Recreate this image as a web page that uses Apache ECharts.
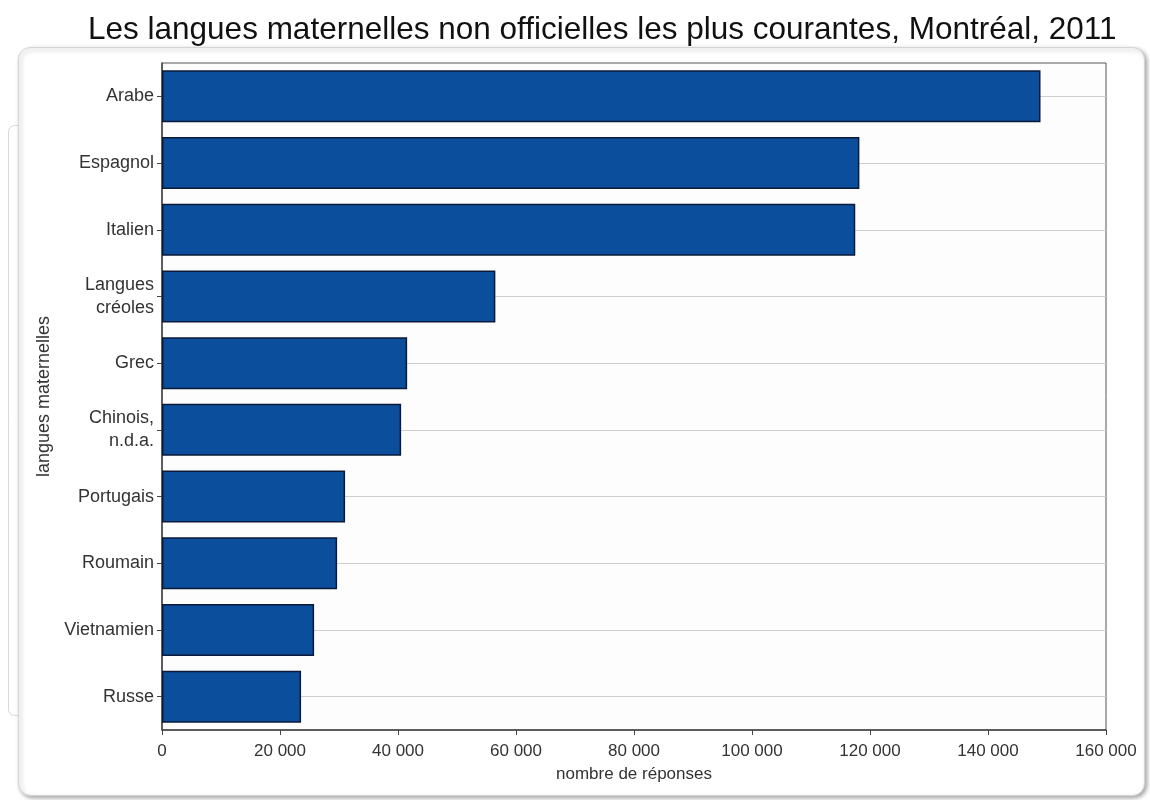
<!DOCTYPE html>
<html>
<head>
<meta charset="utf-8">
<script src="https://cdn.jsdelivr.net/npm/echarts@6/dist/echarts.min.js"></script>
<style>
  html, body { margin: 0; padding: 0; background: #fff; }
  #chart { width: 1150px; height: 800px; }
</style>
</head>
<body>
<div id="chart"></div>
<script>
const langues = ["Arabe", "Espagnol", "Italien", "Langues\ncréoles", "Grec",
  "Chinois,\nn.d.a.", "Portugais", "Roumain", "Vietnamien", "Russe"];
const reponses = [148900, 118200, 117500, 56500, 41550, 40530, 31030, 29680, 25780, 23570];
const xTicks = [0, 20000, 40000, 60000, 80000, 100000, 120000, 140000, 160000];

const chart = echarts.init(document.getElementById("chart"));

function fmt(v) {
  return String(v).replace(/\B(?=(\d{3})+(?!\d))/g, " ");
}

const option = {
  backgroundColor: "#fff",
  textStyle: { fontFamily: "Liberation Sans, Arial, sans-serif" },
  title: {
    text: "Les langues maternelles non officielles les plus courantes, Montréal, 2011",
    left: 83,
    top: 9,
    textStyle: { fontSize: 31.5, fontWeight: "normal", color: "#111" }
  },
  graphic: [
    {
      type: "rect", z: -10, left: 8, top: 125,
      shape: { width: 30, height: 590, r: 6 },
      style: { fill: "#fff", stroke: "#d8d8d8", lineWidth: 1 }
    },
    {
      type: "rect", z: -9, left: 18, top: 47,
      shape: { width: 1126, height: 748, r: 12 },
      style: {
        fill: "#fff", stroke: "#d4d4d4", lineWidth: 1,
        shadowBlur: 4, shadowOffsetX: 2, shadowOffsetY: 2, shadowColor: "rgba(0,0,0,0.35)"
      }
    }
  ],
  grid: {
    left: 162, right: 44, top: 63, bottom: 70,
    show: true, backgroundColor: "#fdfdfd",
    borderColor: "#555", borderWidth: 1
  },
  xAxis: {
    type: "value",
    min: 0, max: 160000, interval: 20000,
    name: "nombre de réponses",
    nameLocation: "middle",
    nameGap: 36,
    nameTextStyle: { fontSize: 17, color: "#333" },
    axisLine: { show: true, lineStyle: { color: "#444", width: 1.5 } },
    axisTick: { show: true, length: 5, lineStyle: { color: "#444" } },
    axisLabel: {
      fontSize: 17, color: "#333", margin: 13,
      formatter: v => xTicks.includes(v) ? fmt(v) : ""
    },
    splitLine: { show: false }
  },
  yAxis: {
    type: "category",
    data: langues,
    inverse: true,
    name: "langues maternelles",
    nameLocation: "middle",
    nameGap: 109,
    nameTextStyle: { fontSize: 18, color: "#333" },
    axisLine: { show: true, lineStyle: { color: "#444", width: 1.5 } },
    axisTick: { show: true, length: 5, alignWithLabel: true, lineStyle: { color: "#444" } },
    axisLabel: { fontSize: 18, color: "#333", margin: 8, lineHeight: 23 },
    splitLine: { show: true, alignWithLabel: true, lineStyle: { color: "#cfcfcf", width: 1 } }
  },
  series: [
    {
      type: "bar",
      data: reponses,
      barCategoryGap: "22%",
      itemStyle: { color: "#0b4f9c", borderColor: "#0a1a38", borderWidth: 1.5 },
      silent: true
    }
  ]
};

chart.setOption(option);
window.addEventListener("resize", () => chart.resize());
</script>
</body>
</html>
